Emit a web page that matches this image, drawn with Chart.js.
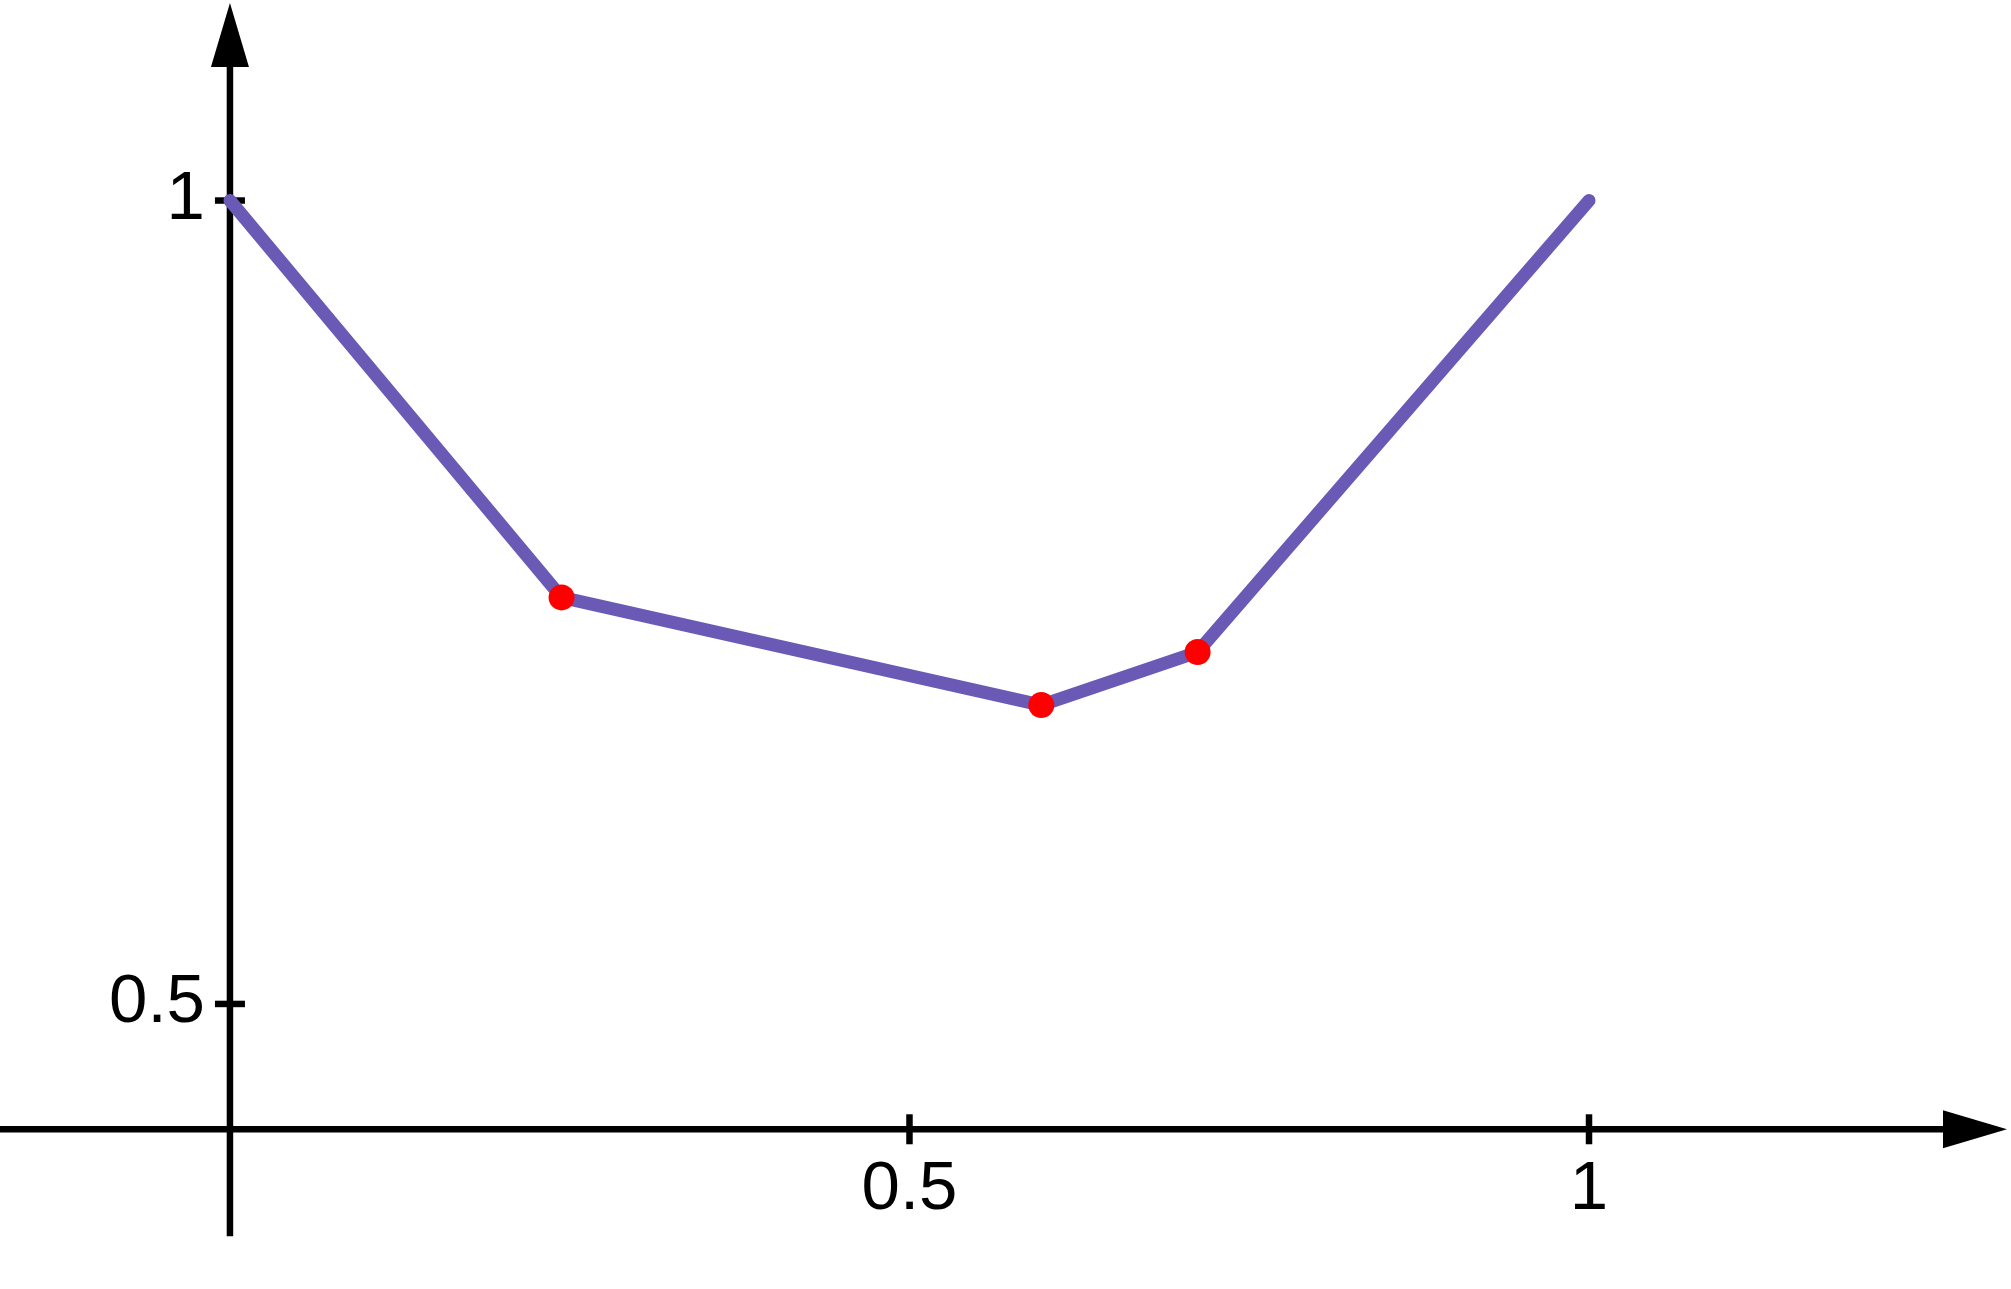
<!DOCTYPE html>
<html lang="en">
<head>
    <meta charset="UTF-8">
    <title>Piecewise line</title>
    <script src="https://cdn.jsdelivr.net/npm/chart.js"></script>
    <style>
        body { margin: 0; padding: 0; background: #fff; }
        .wrap { width: 2011px; height: 1289px; position: relative; }
    </style>
</head>
<body>
    <div class="wrap"><canvas id="chart"></canvas></div>
    <script>
    // data
    const xs = [0, 0.244, 0.597, 0.712, 1];
    const ys = [1, 0.753, 0.686, 0.719, 1];
    const markedIdx = [1, 2, 3];
    const xTicks = [0.5, 1];
    const yTicks = [0.5, 1];
    const xAxisAtY = 0.422;  // where the horizontal axis crosses

    const linePts = xs.map((x, i) => ({ x: x, y: ys[i] }));
    const dotPts = markedIdx.map(i => ({ x: xs[i], y: ys[i] }));

    const axesPlugin = {
        id: 'axes',
        beforeDatasetsDraw(chart) {
            const ctx = chart.ctx;
            const sx = chart.scales.x, sy = chart.scales.y;
            const area = chart.chartArea;
            const ox = sx.getPixelForValue(0);
            const oy = sy.getPixelForValue(xAxisAtY);
            ctx.save();
            ctx.strokeStyle = '#000';
            ctx.fillStyle = '#000';
            ctx.lineWidth = 6.5;
            // x axis
            const xTip = area.right - 4;
            ctx.beginPath();
            ctx.moveTo(area.left, oy);
            ctx.lineTo(xTip - 60, oy);
            ctx.stroke();
            ctx.beginPath();
            ctx.moveTo(xTip, oy);
            ctx.lineTo(xTip - 64, oy - 19);
            ctx.lineTo(xTip - 64, oy + 19);
            ctx.closePath();
            ctx.fill();
            // y axis
            const yTip = area.top + 3;
            ctx.beginPath();
            ctx.moveTo(ox, oy + 107);
            ctx.lineTo(ox, yTip + 60);
            ctx.stroke();
            ctx.beginPath();
            ctx.moveTo(ox, yTip);
            ctx.lineTo(ox - 19, yTip + 64);
            ctx.lineTo(ox + 19, yTip + 64);
            ctx.closePath();
            ctx.fill();
            // ticks and labels
            ctx.font = '69px Arial, "Liberation Sans", Helvetica, sans-serif';
            ctx.textBaseline = 'alphabetic';
            xTicks.forEach(t => {
                const px = sx.getPixelForValue(t);
                ctx.beginPath();
                ctx.moveTo(px, oy - 15);
                ctx.lineTo(px, oy + 15);
                ctx.stroke();
                ctx.textAlign = 'center';
                ctx.fillText(String(t), px, oy + 80);
            });
            yTicks.forEach(t => {
                const py = sy.getPixelForValue(t);
                ctx.beginPath();
                ctx.moveTo(ox - 15, py);
                ctx.lineTo(ox + 15, py);
                ctx.stroke();
                ctx.textAlign = 'right';
                ctx.fillText(String(t), ox - 25, py + 18);
            });
            ctx.restore();
        }
    };

    new Chart(document.getElementById('chart'), {
        type: 'scatter',
        data: {
            datasets: [
                {
                    data: linePts,
                    showLine: true,
                    borderColor: '#6a5ab6',
                    borderWidth: 13,
                    borderCapStyle: 'round',
                    borderJoinStyle: 'round',
                    pointRadius: 0,
                    order: 2
                },
                {
                    data: dotPts,
                    backgroundColor: '#ff0000',
                    borderWidth: 0,
                    pointRadius: 13,
                    order: 1
                }
            ]
        },
        options: {
            responsive: true,
            maintainAspectRatio: false,
            animation: false,
            layout: { padding: 0, autoPadding: false },
            plugins: { legend: { display: false }, tooltip: { enabled: false } },
            scales: {
                x: { type: 'linear', min: -0.1692, max: 1.3105, display: false },
                y: { type: 'linear', min: 0.3226, max: 1.1248, display: false }
            }
        },
        plugins: [axesPlugin]
    });
    </script>
</body>
</html>
